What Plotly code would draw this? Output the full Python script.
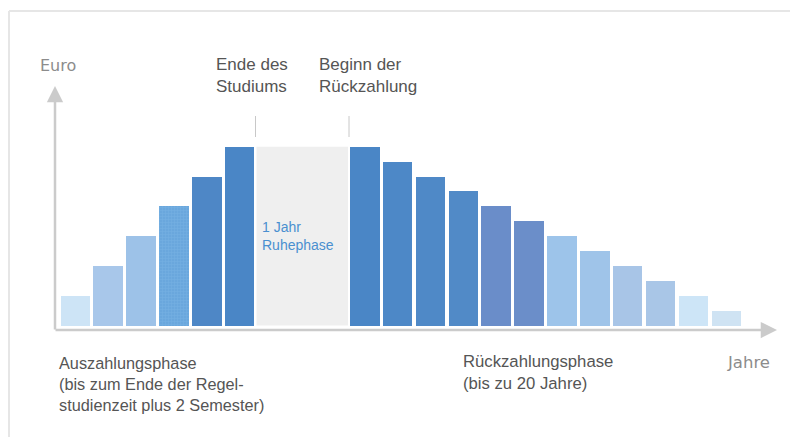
import plotly.graph_objects as go

# ---- data (relative amounts) ----
payout_values = [1, 2, 3, 4, 5, 6]
repay_values = [6, 5.5, 5, 4.5, 4, 3.5, 3, 2.5, 2, 1.5, 1, 0.5]
payout_colors = ["#cde4f6", "#a8c7ea", "#9dc2e8", "#6aa7dd", "#4e87c6", "#4a86c6"]
repay_colors = ["#4a86c6", "#4d88c7", "#4f89c7", "#518ac7", "#6a8dc9", "#6b8ec9",
                "#9dc4ea", "#9fc4e9", "#a8c5e7", "#a9c6e7", "#cde5f7", "#cfe3f3"]

OFF = 8                      # page body margin in the browser
W, H = 798 - OFF, 437 - OFF  # figure size
# pixel (page coordinates) <-> data mapping
PX0, PITCH = 75.3 - OFF, 32.87    # x pixel of first bar centre, bar pitch
PY0, UNIT = 325.5 - OFF, 29.8     # baseline pixel, pixels per unit

def px2u(px):
    return (px - OFF - PX0) / PITCH

def py2v(py):
    return (PY0 - (py - OFF)) / UNIT

BAR_W = 29.5 / PITCH
payout_x = list(range(len(payout_values)))
repay_start = px2u(364.75)
repay_x = [repay_start + j for j in range(len(repay_values))]
rest_l, rest_r = px2u(256.5), px2u(348)

fig = go.Figure()

fig.add_trace(go.Bar(
    x=payout_x, y=payout_values, width=BAR_W,
    marker=dict(color=payout_colors, line=dict(width=0)),
    hoverinfo="skip", showlegend=False))

# dotted texture on the 4th payout bar
fig.add_trace(go.Bar(
    x=[payout_x[3]], y=[payout_values[3]], width=BAR_W,
    marker=dict(color="rgba(0,0,0,0)", line=dict(width=0),
                pattern=dict(shape="+", fgcolor="rgba(150,200,240,0.55)",
                             bgcolor="rgba(0,0,0,0)", size=3, solidity=0.3,
                             fillmode="overlay")),
    hoverinfo="skip", showlegend=False))

fig.add_trace(go.Bar(
    x=repay_x, y=repay_values, width=BAR_W,
    marker=dict(color=repay_colors, line=dict(width=0)),
    hoverinfo="skip", showlegend=False))

# rest phase block
fig.add_shape(type="rect", xref="x", yref="y", x0=rest_l, x1=rest_r, y0=0,
              y1=max(payout_values), fillcolor="#efefef", line=dict(width=0), layer="below")

# marker ticks
for px in (255.5, 349):
    fig.add_shape(type="line", xref="x", yref="y", x0=px2u(px), x1=px2u(px),
                  y0=py2v(137), y1=py2v(116), line=dict(color="#c8c8c8", width=1))

axis_col = "#cbcbcb"
# x axis arrow
fig.add_annotation(xref="x", yref="y", axref="x", ayref="y",
                   x=px2u(777), y=py2v(330), ax=px2u(54), ay=py2v(330),
                   showarrow=True, arrowhead=2, arrowsize=1.3, arrowwidth=2.5,
                   arrowcolor=axis_col, text="")
# y axis arrow
fig.add_annotation(xref="x", yref="y", axref="x", ayref="y",
                   x=px2u(55), y=py2v(86), ax=px2u(55), ay=py2v(331),
                   showarrow=True, arrowhead=2, arrowsize=1.3, arrowwidth=2.5,
                   arrowcolor=axis_col, text="")

def fx(px):
    return (px - OFF) / W

def fy(py):
    return 1 - (py - OFF) / H

# frame lines (top and left)
fig.add_shape(type="line", xref="paper", yref="paper", x0=fx(9), x1=1, y0=fy(11),
              y1=fy(11), line=dict(color="#e6e6e6", width=2))
fig.add_shape(type="line", xref="paper", yref="paper", x0=fx(9), x1=fx(9), y0=0,
              y1=fy(11), line=dict(color="#e6e6e6", width=2))

FONT = "Liberation Sans, Arial, sans-serif"

def label(px, py, text, size, color, family=FONT, xanchor="left"):
    fig.add_annotation(xref="paper", yref="paper", x=fx(px), y=fy(py),
                       xanchor=xanchor, yanchor="middle", showarrow=False,
                       text=text, align="left",
                       font=dict(family=family, size=size, color=color))

label(38, 66, "Euro", 16, "#8c8c8c", family="DejaVu Sans, sans-serif")
label(725, 362, "Jahre", 16.5, "#8c8c8c", family="DejaVu Sans, sans-serif")
label(214, 76, "Ende des<br>Studiums", 17, "#555555")
label(317, 76, "Beginn der<br>Rückzahlung", 17, "#555555")
label(260, 236, "1 Jahr<br>Ruhephase", 14, "#4a8fd0")
label(57, 384, "Auszahlungsphase<br>(bis zum Ende der Regel-<br>studienzeit plus 2 Semester)", 16.3, "#555555")
label(461, 372, "Rückzahlungsphase<br>(bis zu 20 Jahre)", 16.7, "#555555")

fig.update_layout(
    width=W, height=H, margin=dict(l=0, r=0, t=0, b=0),
    paper_bgcolor="white", plot_bgcolor="white",
    xaxis=dict(range=[px2u(OFF), px2u(OFF + W)], visible=False, fixedrange=True),
    yaxis=dict(range=[py2v(OFF + H), py2v(OFF)], visible=False, fixedrange=True),
    barmode="overlay", bargap=0, showlegend=False,
)

fig.write_html("out.html", config={"displayModeBar": False})
